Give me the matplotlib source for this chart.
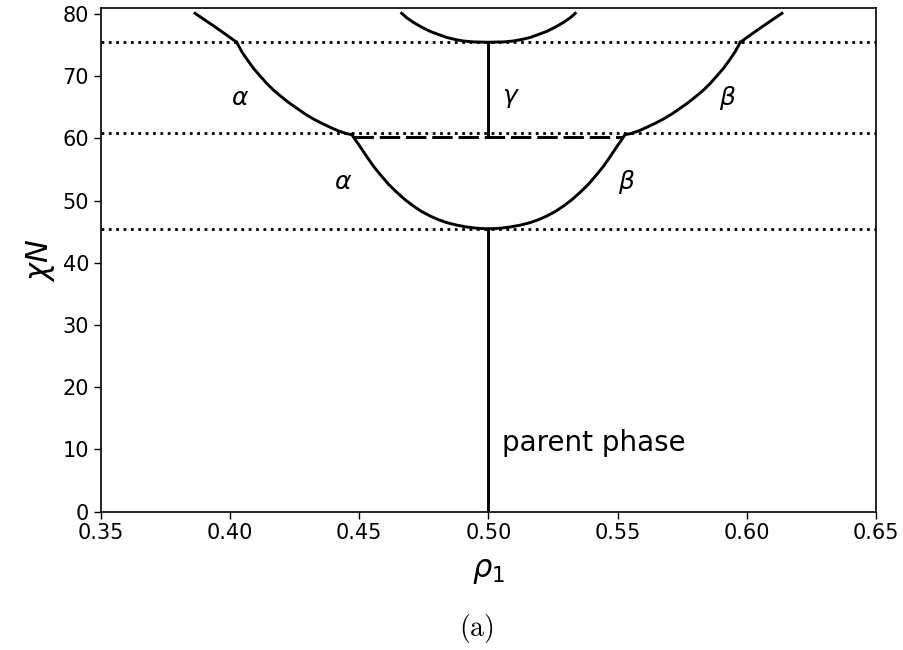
import matplotlib
matplotlib.use("Agg")
import matplotlib.pyplot as plt

plt.rcParams['mathtext.fontset'] = 'dejavusans'

# lower branch (parent -> alpha / beta)
low_alpha_x = [0.4471, 0.4503, 0.4529, 0.4554, 0.4580, 0.4612, 0.4645, 0.4677, 0.4709,
               0.4742, 0.4774, 0.4806, 0.4838, 0.4877, 0.4916, 0.4955, 0.5000]
low_alpha_y = [60.6, 58.67, 57.06, 55.56, 54.23, 52.67, 51.33, 50.14, 49.13,
               48.22, 47.52, 46.93, 46.46, 46.05, 45.75, 45.55, 45.45]
low_beta_x = [0.5000, 0.5045, 0.5084, 0.5123, 0.5162, 0.5194, 0.5226, 0.5258, 0.5291,
              0.5323, 0.5355, 0.5388, 0.5420, 0.5446, 0.5471, 0.5497, 0.5529]
low_beta_y = [45.45, 45.55, 45.75, 46.05, 46.46, 46.93, 47.52, 48.22, 49.13,
              50.14, 51.33, 52.67, 54.23, 55.56, 57.06, 58.67, 60.6]

# middle branch
mid_alpha_x = [0.4025, 0.4045, 0.4064, 0.4090, 0.4116, 0.4141, 0.4167, 0.4193, 0.4225,
               0.4258, 0.4290, 0.4322, 0.4354, 0.4387, 0.4419, 0.4451, 0.4471]
mid_alpha_y = [75.45, 73.94, 72.77, 71.27, 70.03, 68.86, 67.78, 66.87, 65.80,
               64.84, 63.92, 63.12, 62.43, 61.78, 61.19, 60.75, 60.6]
mid_beta_x = [0.5529, 0.5549, 0.5581, 0.5613, 0.5646, 0.5678, 0.5710, 0.5742, 0.5775,
              0.5807, 0.5833, 0.5859, 0.5884, 0.5910, 0.5936, 0.5955, 0.5975]
mid_beta_y = [60.6, 60.75, 61.19, 61.78, 62.43, 63.12, 63.92, 64.84, 65.80,
              66.87, 67.78, 68.86, 70.03, 71.27, 72.77, 73.94, 75.45]

# top outer branches
top_alpha_x = [0.3864, 0.3903, 0.3935, 0.3973, 0.4025]
top_alpha_y = [80.1, 79.0, 78.1, 77.0, 75.45]
top_beta_x = [0.5975, 0.6027, 0.6065, 0.6097, 0.6136]
top_beta_y = [75.45, 77.0, 78.1, 79.0, 80.1]

# top gamma branch
gamma_x = [0.4664, 0.4683, 0.4709, 0.4742, 0.4774, 0.4806, 0.4838, 0.4870, 0.4903, 0.4941, 0.5000,
           0.5059, 0.5097, 0.5130, 0.5162, 0.5194, 0.5226, 0.5258, 0.5291, 0.5317, 0.5336]
gamma_y = [80.1, 79.4, 78.65, 77.86, 77.2, 76.7, 76.22, 75.9, 75.65, 75.5, 75.45,
           75.5, 75.65, 75.9, 76.22, 76.7, 77.2, 77.86, 78.65, 79.4, 80.1]

# vertical lines
parent_x = [0.5, 0.5]
parent_y = [0.0, 45.45]
gamma_line_x = [0.5, 0.5]
gamma_line_y = [60.2, 75.45]

# dashed tie line
tie_x = [0.4477, 0.5522]
tie_y = [60.2, 60.2]

# dotted horizontal levels
levels = [75.45, 60.8, 45.45]

labels = [(r'$\alpha$', 0.4038, 66.5), (r'$\alpha$', 0.4437, 53.0),
          (r'$\gamma$', 0.5087, 66.5), (r'$\beta$', 0.5927, 66.5),
          (r'$\beta$', 0.5533, 53.0)]

fig = plt.figure(figsize=(9.04, 6.5), dpi=100)
ax = fig.add_axes([0.1117, 0.2129, 0.969 - 0.1117, 0.9872 - 0.2129])

for lv in levels:
    ax.axhline(lv, color='black', linestyle=':', linewidth=2)

lw = 2.1
for xs, ys in [(low_alpha_x, low_alpha_y), (low_beta_x, low_beta_y),
               (mid_alpha_x, mid_alpha_y), (mid_beta_x, mid_beta_y),
               (top_alpha_x, top_alpha_y), (top_beta_x, top_beta_y),
               (gamma_x, gamma_y), (parent_x, parent_y),
               (gamma_line_x, gamma_line_y)]:
    ax.plot(xs, ys, color='black', linewidth=lw, solid_joinstyle='round')
ax.plot(tie_x, tie_y, color='black', linestyle=(0, (7, 2)), linewidth=lw)

for t, x, y in labels:
    ax.text(x, y, t, fontsize=18, ha='center', va='center')
ax.text(0.5052, 11.0, 'parent phase', fontsize=20, ha='left', va='center')

ax.set_xlim(0.35, 0.65)
ax.set_ylim(0, 80.9)
ax.set_xticks([0.35, 0.40, 0.45, 0.50, 0.55, 0.60, 0.65])
ax.set_xticklabels(['0.35', '0.40', '0.45', '0.50', '0.55', '0.60', '0.65'])
ax.set_yticks([0, 10, 20, 30, 40, 50, 60, 70, 80])
ax.tick_params(labelsize=15, width=1, length=5)
for s in ax.spines.values():
    s.set_linewidth(1.2)
ax.set_xlabel(r'$\rho_1$', fontsize=22, labelpad=10)
ax.set_ylabel(r'$\chi N$', fontsize=22)

fig.text(0.5265, 0.033, r'$\mathrm{(a)}$', fontsize=20, ha='center', va='center',
         math_fontfamily='cm')

fig.savefig('out.png', dpi=100)
